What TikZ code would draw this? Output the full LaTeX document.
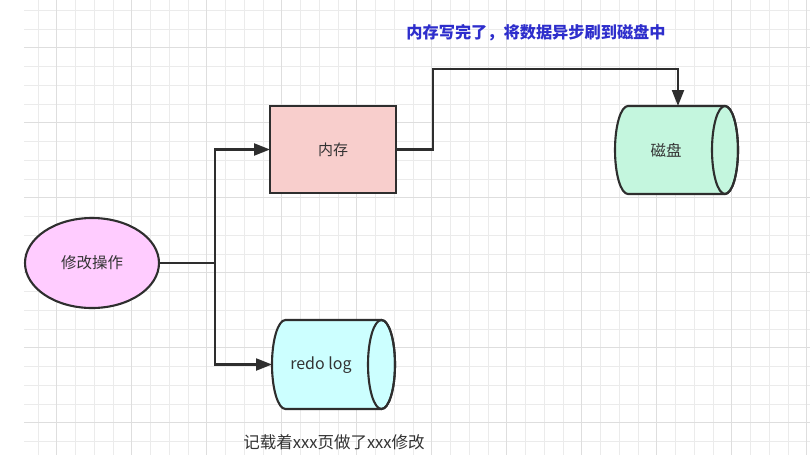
\documentclass[tikz,border=0pt]{standalone}
\usepackage{fontspec}
\setmainfont{Noto Sans CJK SC}
\usetikzlibrary{shapes.geometric,arrows.meta}
\definecolor{minorgrid}{HTML}{EBEBEB}
\definecolor{majorgrid}{HTML}{DEDEDE}
\definecolor{linec}{HTML}{2E2E2E}
\definecolor{memfill}{HTML}{F8CECC}
\definecolor{opfill}{HTML}{FFCCFF}
\definecolor{diskfill}{HTML}{C4F6DE}
\definecolor{redofill}{HTML}{CCFFFF}
\definecolor{titleblue}{HTML}{2E2ECC}
\definecolor{txt}{HTML}{333333}
\begin{document}
\begin{tikzpicture}[x=1pt,y=-1pt,
  mgrid/.style={draw=minorgrid,line width=0.9pt},
  Mgrid/.style={draw=majorgrid,line width=1pt},
  shapeline/.style={draw=linec,line width=2.1pt},
  lbl/.style={text=txt,font=\fontsize{15.5}{18}\selectfont,inner sep=0pt},
  conn/.style={draw=linec,line width=2.1pt},
  arr/.style={conn,-{Triangle[length=16pt,width=12pt]}},
  box/.style={inner sep=0pt,outer sep=0pt}]
\useasboundingbox (0,0) rectangle (810,455);
\fill[white] (0,0) rectangle (810,455);
% grid
\foreach \i in {0,...,41} \draw[mgrid] ({37.95+18.75*\i},0) -- ({37.95+18.75*\i},455);
\foreach \i in {0,...,23} \draw[mgrid] (24,{10.2+18.75*\i}) -- (810,{10.2+18.75*\i});
\foreach \i in {0,...,10} \draw[Mgrid] ({56.7+75*\i},0) -- ({56.7+75*\i},455);
\foreach \i in {0,...,5} \draw[Mgrid] (24,{47.7+75*\i}) -- (810,{47.7+75*\i});

% shapes
\node[box,shape=ellipse,shapeline,fill=opfill,minimum width=134pt,minimum height=90pt,
      text=txt,font=\fontsize{15.5}{18}\selectfont] (op) at (92,263) {修改操作};
\node[box,shapeline,fill=memfill,minimum width=126pt,minimum height=87pt,
      text=txt,font=\fontsize{15}{18}\selectfont] (mem) at (333,149.5) {内存};

% disk cylinder
\node[box,minimum width=123pt,minimum height=88pt] (disk) at (676.5,150) {};
\path[shapeline,fill=diskfill] (628,106) -- (725,106)
   arc[start angle=-90,end angle=90,x radius=13,y radius=44] -- (628,194)
   arc[start angle=90,end angle=270,x radius=13,y radius=44] -- cycle;
\draw[shapeline] (725,150) ellipse[x radius=13,y radius=44];
\node[lbl] (disklbl) at (666,150) {磁盘};

% redo log cylinder
\node[box,minimum width=123pt,minimum height=89pt] (redo) at (333.5,364.5) {};
\path[shapeline,fill=redofill] (285.5,320) -- (381.5,320)
   arc[start angle=-90,end angle=90,x radius=13.5,y radius=44.5] -- (285.5,409)
   arc[start angle=90,end angle=270,x radius=13.5,y radius=44.5] -- cycle;
\draw[shapeline] (381.5,364.5) ellipse[x radius=13.5,y radius=44.5];
\node[lbl,font=\fontsize{16}{18}\selectfont] (redolbl) at (321,365) {redo log};

% connectors
\coordinate (j) at (215,263);
\coordinate (c1) at (433,69);
\draw[conn] (op.east) -- (j);
\draw[arr] (j) |- (mem.west);
\draw[arr] (j) |- (redo.west);
\draw[arr] (mem.east) -| (c1) -| ([xshift=1.5pt]disk.north);

% texts
\node[text=titleblue,font=\fontsize{16.2}{19}\selectfont\bfseries,inner sep=0pt] (title) at (536,33) {内存写完了，将数据异步刷到磁盘中};
\node[lbl,font=\fontsize{16.5}{19}\selectfont] (note) at (334,442) {记载着xxx页做了xxx修改};
\end{tikzpicture}
\end{document}
